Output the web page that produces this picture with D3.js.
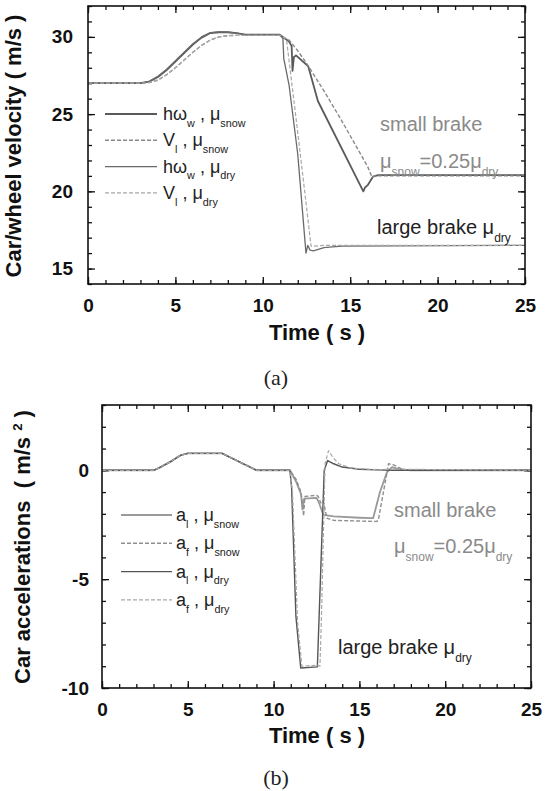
<!DOCTYPE html>
<html>
<head>
<meta charset="utf-8">
<script src="https://cdn.jsdelivr.net/npm/d3@7"></script>
<style>
  body { margin: 0; background: #fff; }
  text { white-space: pre; }
</style>
</head>
<body>
<svg id="fig" width="552" height="791"></svg>
<script>
// tick values
var timeTicks = [0, 5, 10, 15, 20, 25];
var velTicks = [15, 20, 25, 30];
var accTicks = [-10, -5, 0];

// (a) car / wheel velocity, m/s
var tWheelSnow = [0, 3.0, 3.5, 4.0, 4.5, 5.0, 5.5, 6.0, 6.5, 7.0, 7.5, 8.0, 8.5, 9.0, 10.95, 11.5, 11.65, 11.7, 11.78, 11.9, 12.6, 13.15, 15.75, 15.85, 16.0, 16.3, 16.6, 25];
var vWheelSnow = [27.0, 27.0, 27.1, 27.4, 27.85, 28.4, 28.95, 29.5, 29.95, 30.25, 30.3, 30.3, 30.25, 30.15, 30.15, 29.7, 29.4, 27.8, 28.7, 28.8, 28.1, 25.85, 20.0, 20.25, 20.4, 20.95, 21.05, 21.05];

var tCarSnow = [0, 3.0, 3.5, 4.0, 4.5, 5.0, 5.5, 6.0, 6.5, 7.0, 7.5, 8.0, 8.5, 10.95, 11.5, 12.0, 12.5, 13.0, 13.5, 14.0, 14.5, 15.0, 15.5, 16.0, 16.25, 16.4, 25];
var vCarSnow = [27.0, 27.0, 27.05, 27.2, 27.55, 28.0, 28.5, 29.0, 29.45, 29.8, 30.0, 30.08, 30.1, 30.1, 29.8, 29.1, 28.3, 27.4, 26.5, 25.55, 24.6, 23.6, 22.6, 21.6, 20.9, 21.0, 21.0];

var tWheelDry = [0, 3.0, 3.5, 4.0, 4.5, 5.0, 5.5, 6.0, 6.5, 7.0, 7.5, 8.0, 8.5, 9.0, 10.95, 11.15, 11.2, 11.5, 12.0, 12.47, 12.57, 12.7, 12.9, 13.5, 14.5, 25];
var vWheelDry = [27.0, 27.0, 27.12, 27.45, 27.9, 28.45, 29.0, 29.55, 30.0, 30.28, 30.32, 30.3, 30.25, 30.15, 30.15, 29.9, 28.6, 26.9, 22.4, 16.0, 16.5, 16.2, 16.15, 16.35, 16.45, 16.5];

var tCarDry = [0, 3.0, 3.5, 4.0, 4.5, 5.0, 5.5, 6.0, 6.5, 7.0, 7.5, 8.0, 8.5, 10.95, 11.35, 12.0, 12.5, 12.76, 12.9, 13.5, 25];
var vCarDry = [27.0, 27.0, 27.05, 27.2, 27.55, 28.0, 28.5, 29.0, 29.45, 29.8, 30.0, 30.08, 30.1, 30.1, 29.9, 23.8, 19.0, 16.45, 16.45, 16.5, 16.5];

// (b) car accelerations, m/s^2
var tAccLSnow = [0, 3.0, 3.3, 4.0, 4.6, 5.0, 7.0, 7.2, 9.0, 10.95, 11.3, 11.6, 11.68, 11.78, 12.5, 12.65, 12.9, 13.5, 15.0, 15.8, 16.2, 16.6, 16.9, 17.3, 18.0, 25];
var aAccLSnow = [0, 0, 0.1, 0.4, 0.7, 0.78, 0.78, 0.7, 0, 0, -0.5, -1.1, -1.8, -1.3, -1.27, -1.5, -2.05, -2.12, -2.18, -2.2, -1.0, -0.1, 0.15, 0.05, 0, 0];

var tAccFSnow = [0, 3.0, 3.3, 4.0, 4.6, 5.0, 7.0, 7.2, 9.0, 10.95, 11.3, 11.6, 11.75, 11.82, 12.5, 12.6, 12.75, 12.9, 13.1, 13.5, 16.0, 16.1, 16.7, 17.0, 17.5, 18.0, 25];
var aAccFSnow = [0, 0, 0.1, 0.4, 0.7, 0.78, 0.78, 0.7, 0, 0, -0.4, -1.0, -2.1, -1.2, -1.15, -1.2, -1.5, -1.4, -2.2, -2.3, -2.35, -2.3, 0.3, 0.25, 0.05, 0, 0];

var tAccLDry = [0, 3.0, 3.3, 4.0, 4.6, 5.0, 7.0, 7.2, 9.0, 10.95, 11.05, 11.3, 11.58, 12.55, 12.95, 13.15, 13.5, 14.0, 15.0, 16.0, 17.0, 25];
var aAccLDry = [0, 0, 0.1, 0.4, 0.7, 0.78, 0.78, 0.7, 0, 0, -0.8, -6.7, -9.08, -9.03, 0.0, 0.45, 0.3, 0.15, 0.05, 0.02, 0, 0];

var tAccFDry = [0, 3.0, 3.3, 4.0, 4.6, 5.0, 7.0, 7.2, 9.0, 10.95, 11.1, 11.4, 11.65, 12.55, 12.7, 12.78, 13.0, 13.2, 13.45, 13.8, 14.5, 16.0, 17.0, 25];
var aAccFDry = [0, 0, 0.1, 0.4, 0.7, 0.78, 0.78, 0.7, 0, 0, -1.0, -7.0, -9.0, -8.95, -9.0, -7.0, 0.3, 0.9, 0.6, 0.3, 0.1, 0.03, 0.05, 0];

var legendA = ["hω_{w} , μ_{snow}", "V_{l} , μ_{snow}", "hω_{w} , μ_{dry}", "V_{l} , μ_{dry}"];
var legendB = ["a_{l} , μ_{snow}", "a_{f} , μ_{snow}", "a_{l} , μ_{dry}", "a_{f} , μ_{dry}"];

var svg = d3.select("#fig");
svg.append("rect").attr("width", 552).attr("height", 791).attr("fill", "#fff");

// text with _{sub} and ^{sup} pieces
function rich(sel, str, size) {
  var parts = str.split(/([_^]\{[^}]*\})/).filter(function(s) { return s.length; });
  var off = 0;
  parts.forEach(function(p) {
    var kind = 0, txt = p;
    if (p[0] === "_") { kind = 1; txt = p.slice(2, -1); }
    else if (p[0] === "^") { kind = -1; txt = p.slice(2, -1); }
    var target = kind * size * 0.38;
    sel.append("tspan")
      .attr("dy", target - off)
      .attr("font-size", kind ? size * 0.6 : size)
      .text(txt);
    off = target;
  });
}

function panel(box, yDomain, yTicks, series, legend, leg) {
  var w = box.right - box.left, h = box.bottom - box.top;
  var g = svg.append("g").attr("transform", `translate(${box.left},${box.top})`);

  var x = d3.scaleLinear().domain([0, 25]).range([0, w]);
  var y = d3.scaleLinear().domain(yDomain).range([h, 0]);

  var xMinor = d3.range(0, 26, 1);
  var yMinor = d3.range(Math.ceil(yDomain[0]), yDomain[1] + 0.01, 1);
  var plain = function(d) { return String(d); };   // keep "-" like the original

  function styleAxis(a) {
    a.select(".domain").remove();
    a.selectAll("line").attr("stroke", "#111").attr("stroke-width", 1.3);
    a.selectAll("text").attr("font-family", "Liberation Sans, Arial, sans-serif")
      .attr("font-size", 19).attr("font-weight", "bold").attr("fill", "#111");
  }

  // minor ticks on all four sides
  g.append("g").attr("transform", `translate(0,${h})`)
    .call(d3.axisBottom(x).tickValues(xMinor).tickSize(-4).tickFormat("")).call(styleAxis);
  g.append("g")
    .call(d3.axisTop(x).tickValues(xMinor).tickSize(-4).tickFormat("")).call(styleAxis);
  g.append("g")
    .call(d3.axisLeft(y).tickValues(yMinor).tickSize(-4).tickFormat("")).call(styleAxis);
  g.append("g").attr("transform", `translate(${w},0)`)
    .call(d3.axisRight(y).tickValues(yMinor).tickSize(-4).tickFormat("")).call(styleAxis);

  // major ticks + labels
  g.append("g").attr("transform", `translate(0,${h})`)
    .call(d3.axisBottom(x).tickValues(timeTicks).tickSizeInner(-7).tickSizeOuter(0).tickPadding(15).tickFormat(plain)).call(styleAxis);
  g.append("g")
    .call(d3.axisTop(x).tickValues(timeTicks).tickSizeInner(-7).tickSizeOuter(0).tickFormat("")).call(styleAxis);
  g.append("g")
    .call(d3.axisLeft(y).tickValues(yTicks).tickSizeInner(-7).tickSizeOuter(0).tickPadding(box.labelPad).tickFormat(plain)).call(styleAxis);
  g.append("g").attr("transform", `translate(${w},0)`)
    .call(d3.axisRight(y).tickValues(yTicks).tickSizeInner(-7).tickSizeOuter(0).tickFormat("")).call(styleAxis);

  var line = d3.line().x(function(d) { return x(d[0]); }).y(function(d) { return y(d[1]); });

  g.append("clipPath").attr("id", "clip" + box.top)
    .append("rect").attr("width", w).attr("height", h);

  series.forEach(function(s) {
    g.append("path")
      .datum(d3.zip(s.t, s.v))
      .attr("clip-path", `url(#clip${box.top})`)
      .attr("d", line)
      .attr("fill", "none")
      .attr("stroke", s.color)
      .attr("stroke-width", s.width)
      .attr("stroke-dasharray", s.dash || null)
      .attr("stroke-linejoin", "round");
  });

  g.append("rect").attr("width", w).attr("height", h)
    .attr("fill", "none").attr("stroke", "#111").attr("stroke-width", 1.6);

  // legend
  legend.forEach(function(lab, i) {
    var s = series[i];
    var yy = leg.y0 + i * leg.dy;
    svg.append("line")
      .attr("x1", leg.x1).attr("x2", leg.x2).attr("y1", yy).attr("y2", yy)
      .attr("stroke", s.color).attr("stroke-width", s.width)
      .attr("stroke-dasharray", s.dash || null);
    var t = svg.append("text").attr("x", leg.tx).attr("y", yy + 6)
      .attr("font-family", "Liberation Sans, Arial, sans-serif").attr("fill", "#222");
    rich(t, lab, 18);
  });
}

var dash = "4,2";

panel({ left: 88, right: 525, top: 6, bottom: 284, labelPad: 15 }, [14, 32], velTicks, [
  { t: tWheelSnow, v: vWheelSnow, color: "#5a5a5a", width: 1.8 },
  { t: tCarSnow, v: vCarSnow, color: "#8a8a8a", width: 1.4, dash: dash },
  { t: tWheelDry, v: vWheelDry, color: "#6a6a6a", width: 1.3 },
  { t: tCarDry, v: vCarDry, color: "#a8a8a8", width: 1.2, dash: dash }
], legendA, { x1: 105, x2: 157, tx: 163, y0: 114, dy: 26.3 });

panel({ left: 102, right: 531, top: 405, bottom: 688, labelPad: 13 }, [-10, 3], accTicks, [
  { t: tAccLSnow, v: aAccLSnow, color: "#9a9a9a", width: 1.8 },
  { t: tAccFSnow, v: aAccFSnow, color: "#8f8f8f", width: 1.4, dash: dash },
  { t: tAccLDry, v: aAccLDry, color: "#555", width: 1.4 },
  { t: tAccFDry, v: aAccFDry, color: "#a8a8a8", width: 1.2, dash: dash }
], legendB, { x1: 121, x2: 172, tx: 176, y0: 515, dy: 28.3 });

// axis titles
function title(x, y, rot, str) {
  var t = svg.append("text")
    .attr("transform", `translate(${x},${y}) rotate(${rot})`)
    .attr("text-anchor", "middle").attr("dy", "0.35em")
    .attr("font-family", "Liberation Sans, Arial, sans-serif")
    .attr("font-weight", "bold").attr("fill", "#111");
  rich(t, str, 22);
}
title(21, 146, -90, "Car/wheel velocity ( m/s )");
title(317, 340, 0, "Time ( s )");
title(30, 547, -90, "Car accelerations  ( m/s ^{2} )");
title(317, 743, 0, "Time ( s )");

// captions
[["(a)", 377], ["(b)", 777]].forEach(function(c) {
  svg.append("text").attr("x", 276).attr("y", c[1]).attr("dy", "0.35em")
    .attr("text-anchor", "middle")
    .attr("font-family", "Liberation Serif, Times New Roman, serif")
    .attr("font-size", 22).attr("fill", "#222").text(c[0]);
});

// annotations
function note(x, y, str, color) {
  var t = svg.append("text").attr("x", x).attr("y", y)
    .attr("font-family", "Liberation Sans, Arial, sans-serif").attr("fill", color);
  rich(t, str, 20);
}
note(380, 131, "small brake", "#8a8a8a");
note(380, 168, "μ_{snow}=0.25μ_{dry}", "#8a8a8a");
note(377, 234, "large brake μ_{dry}", "#222");
note(394, 517, "small brake", "#8a8a8a");
note(394, 553, "μ_{snow}=0.25μ_{dry}", "#8a8a8a");
note(338, 654, "large brake μ_{dry}", "#222");
</script>
</body>
</html>
